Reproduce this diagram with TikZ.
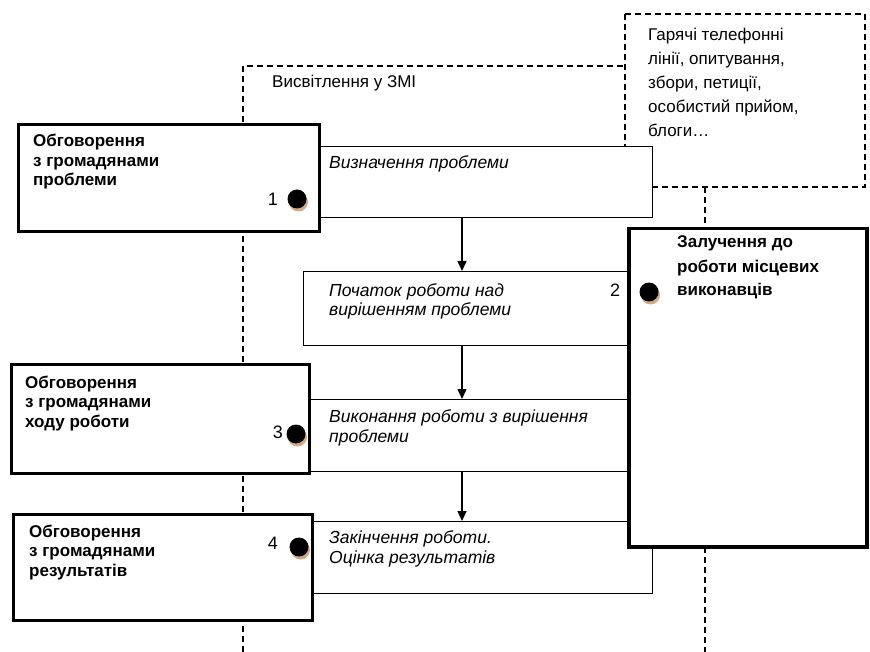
\documentclass[tikz,border=0pt]{standalone}
\usepackage{fontspec}
\setmainfont{Liberation Sans}
\usetikzlibrary{arrows.meta,calc}
\definecolor{dotshade}{RGB}{214,168,128}
\tikzset{
	thickbox/.style={draw, line width=3pt, fill=white, anchor=north west, inner sep=0pt},
	procbox/.style={draw, line width=1.4pt, fill=white, anchor=north west, inner sep=0pt},
	dashline/.style={line width=1.3pt, dash pattern=on 6pt off 4pt},
	boldtxt/.style={anchor=base west, align=left, inner sep=0pt, font=\fontsize{17}{19.5}\selectfont\bfseries},
	bigtxt/.style={anchor=base west, align=left, inner sep=0pt, font=\fontsize{17}{24}\selectfont\bfseries},
	itxt/.style={anchor=base west, align=left, inner sep=0pt, font=\fontsize{17.5}{19.5}\selectfont\itshape},
	plaintxt/.style={anchor=base west, align=left, inner sep=0pt, font=\fontsize{17}{24}\selectfont},
	numtxt/.style={anchor=base, inner sep=0pt, font=\fontsize{18}{20}\selectfont},
	arr/.style={line width=1.4pt, -{Triangle[length=10pt,width=9pt]}}
}
\newcommand{\stepdot}[1]{%
	\fill[dotshade] ($(#1)+(1.5,3)$) circle[radius=9.5];
	\fill[black] (#1) circle[radius=9.5];}

\begin{document}
\begin{tikzpicture}[x=1pt,y=-1pt]
		\useasboundingbox (0,0) rectangle (870,652);
		\fill[white] (0,0) rectangle (870,652);
		% dashed frames
		\coordinate (zmiL) at (243,66);
		\coordinate (zmiR) at (625,66);
		\coordinate (zmiB) at (243,652);
		\coordinate (hotTL) at (625,14);
		\coordinate (hotBR) at (865,187);
		\coordinate (locT) at (705,187);
		\coordinate (locB) at (705,652);
		\draw[dashline] (zmiB) -- (zmiL) -- (zmiR);
		\draw[dashline] (hotTL) rectangle (hotBR);
		\draw[dashline] (locT) -- (locB);
		% process boxes
		\node[procbox, minimum width=348, minimum height=71] (p1) at (304,146) {};
		\node[procbox, minimum width=349, minimum height=74] (p2) at (303,271) {};
		\node[procbox, minimum width=348, minimum height=72] (p3) at (304,399) {};
		\node[procbox, minimum width=348, minimum height=72] (p4) at (304,521) {};
		% discussion boxes
		\node[thickbox, minimum width=301, minimum height=107] (dA) at (17,123) {};
		\node[thickbox, minimum width=298, minimum height=109] (dB) at (10,363) {};
		\node[thickbox, minimum width=299, minimum height=106] (dC) at (12,513) {};
		\node[thickbox, line width=3.5pt, minimum width=238, minimum height=318] (exe) at (627,227) {};
		% arrows
		\coordinate (ax) at (462,0);
		\draw[arr] (ax |- p1.south) -- (ax |- p2.north);
		\draw[arr] (ax |- p2.south) -- (ax |- p3.north);
		\draw[arr] (ax |- p3.south) -- (ax |- p4.north);
		% texts (base = last line)
		\node[plaintxt] (zmi) at (272,88) {Висвітлення у ЗМІ};
		\node[plaintxt] (hot) at (648,137) {Гарячі телефонні\\лінії, опитування,\\збори, петиції,\\особистий прийом,\\блоги…};
		\node[boldtxt] (tA) at (33,186) {Обговорення\\з громадянами\\проблеми};
		\node[boldtxt] (tB) at (25,427) {Обговорення\\з громадянами\\ходу роботи};
		\node[boldtxt] (tC) at (29,576) {Обговорення\\з громадянами\\результатів};
		\node[bigtxt] (tE) at (677,296) {Залучення до\\роботи місцевих\\виконавців};
		\node[itxt] (t1) at (329,169) {Визначення проблеми};
		\node[itxt] (t2) at (329,316) {Початок роботи над\\вирішенням проблеми};
		\node[itxt] (t3) at (329,442) {Виконання роботи з вирішення\\проблеми};
		\node[itxt] (t4) at (329,563) {Закінчення роботи.\\Оцінка результатів};
		% numbered markers
		\node[numtxt] (n1) at (273,206) {1};
		\node[numtxt] (n2) at (615,297) {2};
		\node[numtxt] (n3) at (278,438) {3};
		\node[numtxt] (n4) at (273,549) {4};
		\coordinate (m1) at (297,199);
		\coordinate (m2) at (649,292);
		\coordinate (m3) at (296,434);
		\coordinate (m4) at (299,547);
		\foreach \m in {m1,m2,m3,m4} {\stepdot{\m}}
	\end{tikzpicture}
\end{document}
